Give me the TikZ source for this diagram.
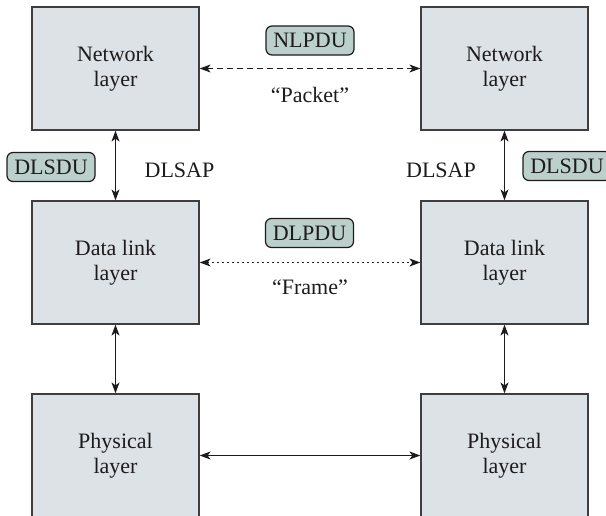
\documentclass[tikz,border=0pt]{standalone}
\usepackage{fontspec}
\setmainfont{Liberation Serif}
\usetikzlibrary{arrows.meta}
\definecolor{boxfill}{HTML}{DCE2E5}
\definecolor{tagfill}{HTML}{BBCFCB}
\definecolor{ink}{HTML}{1E1B1C}
\begin{document}
\begin{tikzpicture}[x=1pt,y=-1pt,
  font=\fontsize{22}{25}\selectfont,
  layerbox/.style={draw=ink!85, line width=1.2pt, fill=boxfill, minimum width=167pt,
    minimum height=123pt, align=center, text=ink, inner sep=0pt},
  tag/.style={draw=ink, line width=1.2pt, fill=tagfill, rounded corners=6pt,
    minimum width=88pt, minimum height=29pt, inner sep=0pt, text=ink},
  plain/.style={text=ink, inner sep=0pt},
  link/.style={draw=ink, line width=1.1pt,
    {Stealth[length=11pt,width=8pt,inset=3pt]}-{Stealth[length=11pt,width=8pt,inset=3pt]}},
  dashlink/.style={link, dash pattern=on 6pt off 4pt},
  dotlink/.style={link, dash pattern=on 2pt off 3pt}]
\fill[white] (0,0) rectangle (606,515);
\clip (0,0) rectangle (606,515);

\node[layerbox] (n1) at (115.5,68.5) {Network\\layer};
\node[layerbox] (n2) at (504.5,68.5) {Network\\layer};
\node[layerbox] (d1) at (115.5,262.5) {Data link\\layer};
\node[layerbox] (d2) at (504.5,262.5) {Data link\\layer};
\node[layerbox] (p1) at (115.5,455.5) {Physical\\layer};
\node[layerbox] (p2) at (504.5,455.5) {Physical\\layer};

\node[tag] (nlpdu) at (310,40.5) {NLPDU};
\node[tag] (dlpdu) at (309.5,233) {DLPDU};
\node[tag] (dlsdu1) at (51,167) {DLSDU};
\node[tag] (dlsdu2) at (567,166) {DLSDU};

\node[plain] (sap1) at (179.5,170) {DLSAP};
\node[plain] (sap2) at (441,170) {DLSAP};
\node[plain] (pkt) at (310,95) {“Packet”};
\node[plain] (frm) at (310,287) {“Frame”};

\draw[dashlink] (n1) -- (n2);
\draw[dotlink] (d1) -- (d2);
\draw[link] (p1) -- (p2);
\draw[link] (n1) -- (d1);
\draw[link] (n2) -- (d2);
\draw[link] (d1) -- (p1);
\draw[link] (d2) -- (p2);
\end{tikzpicture}
\end{document}
